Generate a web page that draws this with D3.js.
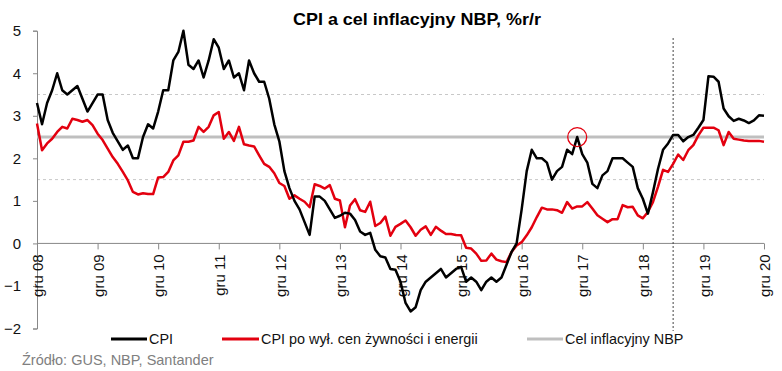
<!DOCTYPE html>
<html>
<head>
<meta charset="utf-8">
<script src="https://cdn.jsdelivr.net/npm/d3@7"></script>
<style>
  body { margin: 0; background: #fff; }
  svg text { font-family: "Liberation Sans", Arial, sans-serif; }
</style>
</head>
<body>
<div id="chart"></div>
<script>
// monthly, Dec 2008 .. Dec 2020
const cpi = [3.3,
  2.8, 3.3, 3.6, 4.0, 3.6, 3.5, 3.6, 3.7, 3.4, 3.1, 3.3, 3.5,
  3.5, 2.9, 2.6, 2.4, 2.2, 2.3, 2.0, 2.0, 2.5, 2.8, 2.7, 3.1,
  3.6, 3.6, 4.3, 4.5, 5.0, 4.2, 4.1, 4.3, 3.9, 4.3, 4.8, 4.6,
  4.1, 4.3, 3.9, 4.0, 3.6, 4.3, 4.0, 3.8, 3.8, 3.4, 2.8, 2.4,
  1.7, 1.3, 1.0, 0.8, 0.5, 0.2, 1.1, 1.1, 1.0, 0.8, 0.6, 0.65,
  0.72, 0.7, 0.55, 0.28, 0.2, 0.25, -0.15, -0.3, -0.33, -0.6, -0.62, -0.9,
  -1.4, -1.6, -1.5, -1.1, -0.9, -0.8, -0.7, -0.6, -0.8, -0.7, -0.6, -0.55,
  -0.9, -0.8, -0.9, -1.1, -0.9, -0.8, -0.9, -0.8, -0.5, -0.2, 0.0, 0.8,
  1.7, 2.2, 2.0, 2.0, 1.9, 1.5, 1.7, 1.8, 2.2, 2.1, 2.5, 2.1,
  1.9, 1.4, 1.3, 1.6, 1.7, 2.0, 2.0, 2.0, 1.9, 1.8, 1.3, 1.05,
  0.7, 1.2, 1.75, 2.2, 2.35, 2.55, 2.55, 2.4, 2.5, 2.55, 2.72, 2.9,
  3.93, 3.92, 3.8, 3.17, 2.99, 2.88, 2.93, 2.89, 2.83, 2.89, 3.01, 3.0];

const core = [2.82,
  2.19, 2.35, 2.46, 2.62, 2.74, 2.70, 2.93, 2.90, 2.86, 2.90, 2.78, 2.58,
  2.43, 2.23, 2.03, 1.87, 1.68, 1.48, 1.21, 1.15, 1.18, 1.16, 1.16, 1.55,
  1.56, 1.68, 1.95, 2.07, 2.39, 2.39, 2.42, 2.74, 2.62, 2.74, 3.01, 3.09,
  2.46, 2.62, 2.41, 2.74, 2.33, 2.3, 2.28, 2.07, 1.87, 1.8, 1.65, 1.42,
  1.35, 1.05, 1.13, 1.05, 0.98, 0.85, 1.39, 1.35, 1.29, 1.37, 1.05, 1.01,
  0.38, 0.89, 1.04, 0.78, 0.74, 0.98, 0.41, 0.48, 0.63, 0.18, 0.39, 0.46,
  0.54, 0.38, 0.18, 0.32, 0.4, 0.2, 0.39, 0.3, 0.22, 0.22, 0.2, 0.19,
  -0.1, -0.12, -0.24, -0.41, -0.4, -0.24, -0.38, -0.42, -0.44, -0.2, -0.05, 0.03,
  0.19, 0.38, 0.62, 0.84, 0.8, 0.8, 0.78, 0.72, 0.97, 0.82, 0.87, 0.87,
  0.97, 0.82, 0.66, 0.58, 0.5, 0.57, 0.57, 0.9, 0.85, 0.86, 0.66, 0.59,
  0.74, 0.97, 1.33, 1.73, 1.68, 1.87, 2.09, 1.96, 2.19, 2.31, 2.54, 2.72,
  2.72, 2.72, 2.66, 2.31, 2.62, 2.46, 2.44, 2.42, 2.41, 2.41, 2.41, 2.39];

const tickLabels = ["gru 08", "gru 09", "gru 10", "gru 11", "gru 12", "gru 13", "gru 14",
  "gru 15", "gru 16", "gru 17", "gru 18", "gru 19", "gru 20"];
const yTicks = [-2, -1, 0, 1, 2, 3, 4, 5];
const target = 2.5;
const band = [1.5, 3.5];
const forecastFrom = 126;   // month index of the dashed divider (VI 2019)
const highlightAt = 107;    // circled point (XI 2017)
const seriesNames = ["CPI", "CPI po wył. cen żywności i energii", "Cel inflacyjny NBP"];

const W = 782, H = 371;
const svg = d3.select("#chart").append("svg").attr("width", W).attr("height", H);

const x = d3.scaleLinear().domain([0, cpi.length - 1]).range([37, 764]);
const y = d3.scaleLinear().domain([-2, 5]).range([328.5, 30.7]);

// title
svg.append("text")
  .attr("x", 293).attr("y", 25)
  .attr("font-size", 16.5).attr("font-weight", "bold")
  .attr("textLength", 248).attr("lengthAdjust", "spacingAndGlyphs")
  .text("CPI a cel inflacyjny NBP, %r/r");

// dashed band lines
svg.selectAll(".band").data(band).enter().append("line")
  .attr("x1", x(0)).attr("x2", x(cpi.length - 1))
  .attr("y1", d => y(d)).attr("y2", d => y(d))
  .attr("stroke", "#c8c8c8").attr("stroke-width", 1)
  .attr("stroke-dasharray", "3,3");

// y axis
const yAxis = d3.axisLeft(y).tickValues(yTicks).tickSize(4).tickPadding(12).tickFormat(d3.format("d"));
const gy = svg.append("g").attr("transform", `translate(${x(0)},0)`).call(yAxis);
gy.select(".domain").attr("stroke", "#888");
gy.selectAll(".tick line").attr("stroke", "#888");
gy.selectAll(".tick text").attr("font-size", 15).attr("fill", "#111")
  .attr("font-family", "Liberation Sans, Arial, sans-serif");

// x axis at zero
const xAxis = d3.axisBottom(x)
  .tickValues(tickLabels.map((d, i) => i * 12))
  .tickSize(6)
  .tickFormat((d, i) => tickLabels[i]);
const gx = svg.append("g").attr("transform", `translate(0,${y(0)})`).call(xAxis);
gx.select(".domain").attr("stroke", "#888").attr("d", `M${x(0)},0H${x(cpi.length - 1)}`);
gx.selectAll(".tick line").attr("stroke", "#888");
gx.selectAll(".tick text")
  .attr("font-size", 15).attr("fill", "#111")
  .attr("font-family", "Liberation Sans, Arial, sans-serif")
  .attr("text-anchor", "end")
  .attr("transform", "rotate(-90)")
  .attr("x", -11).attr("y", 0).attr("dy", "0.38em");

// target line
svg.append("line")
  .attr("x1", x(0)).attr("x2", x(cpi.length - 1))
  .attr("y1", y(target)).attr("y2", y(target))
  .attr("stroke", "#bfbfbf").attr("stroke-width", 3);

// forecast divider
svg.append("line")
  .attr("x1", x(forecastFrom)).attr("x2", x(forecastFrom))
  .attr("y1", 38).attr("y2", 331)
  .attr("stroke", "#444").attr("stroke-width", 1)
  .attr("stroke-dasharray", "2,2");

const line = d3.line().x((d, i) => x(i)).y(d => y(d));

svg.append("path").datum(core)
  .attr("d", line).attr("fill", "none")
  .attr("stroke", "#e3000f").attr("stroke-width", 2.5).attr("stroke-linejoin", "round");

svg.append("path").datum(cpi)
  .attr("d", line).attr("fill", "none")
  .attr("stroke", "#000").attr("stroke-width", 2.5).attr("stroke-linejoin", "round");

// highlight circle
svg.append("circle")
  .attr("cx", x(highlightAt)).attr("cy", y(cpi[highlightAt]))
  .attr("r", 9.5).attr("fill", "none")
  .attr("stroke", "#e3000f").attr("stroke-width", 1.3);

// legend
const legend = [
  {name: seriesNames[0], color: "#000", x0: 111, x1: 147},
  {name: seriesNames[1], color: "#e3000f", x0: 222, x1: 259},
  {name: seriesNames[2], color: "#bfbfbf", x0: 527, x1: 563}
];
const lg = svg.append("g");
legend.forEach(l => {
  lg.append("line").attr("x1", l.x0).attr("x2", l.x1).attr("y1", 339).attr("y2", 339)
    .attr("stroke", l.color).attr("stroke-width", 3);
  lg.append("text").attr("x", l.x1 + 2).attr("y", 344)
    .attr("font-size", 14.4).attr("fill", "#111").text(l.name);
});

// source
svg.append("text")
  .attr("x", 22).attr("y", 365)
  .attr("font-size", 14.5).attr("fill", "#808080")
  .text("Źródło: GUS, NBP, Santander");
</script>
</body>
</html>
